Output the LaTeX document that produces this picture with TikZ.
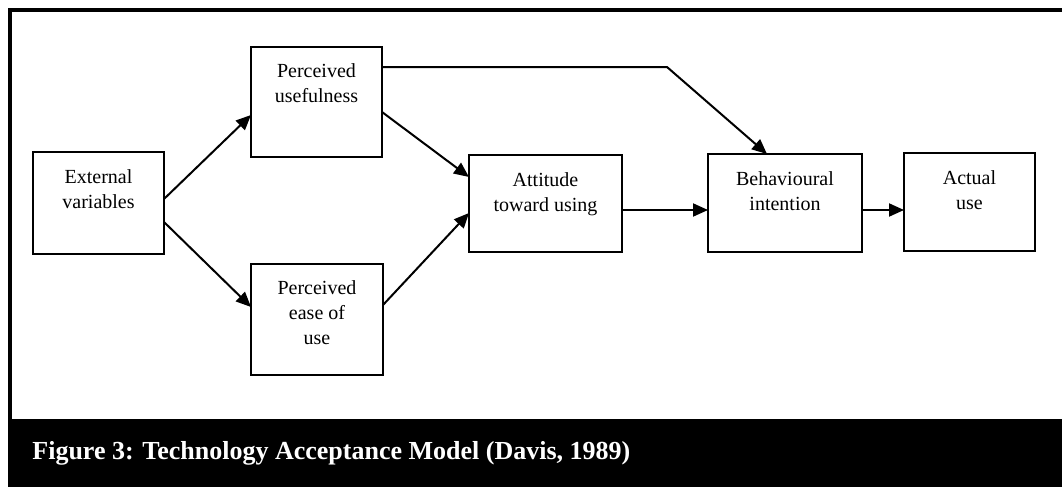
\documentclass[tikz,border=0pt]{standalone}
\usepackage{fontspec}
\setmainfont{Liberation Serif}
\usetikzlibrary{arrows.meta,calc}
\tikzset{
  box/.style={draw, line width=0.7pt, anchor=north west, inner sep=0pt, outer sep=0pt},
  lbl/.style={anchor=north, align=center, inner sep=0pt, font=\fontsize{10}{12.5}\selectfont},
  conn/.style={line width=1pt, -{Triangle[length=7.5pt,width=6.5pt]}},
  frame/.style={line width=2pt},
}
\begin{document}
\begin{tikzpicture}[x=0.5pt,y=-0.5pt]
  \useasboundingbox (0,0) rectangle (1062,487);
  \fill[white] (0,0) rectangle (1062,487);

  % frame and caption bar
  \draw[frame] (10,420) -- (10,10) -- (1062,10);
  \fill[black] (8,419) rectangle (1062,487);
  \node[anchor=base west, text=white, inner sep=0pt,
        font=\bfseries\fontsize{13}{15}\selectfont] (cap) at (32,459)
        {Figure 3: Technology Acceptance Model (Davis, 1989)};

  % boxes
  \node[box, minimum width=65.5pt, minimum height=51pt]   (ext)  at (33,152)  {};
  \node[box, minimum width=65.5pt, minimum height=55pt]   (pu)   at (251,47)  {};
  \node[box, minimum width=66pt,   minimum height=55.5pt] (peou) at (251,264) {};
  \node[box, minimum width=76.5pt, minimum height=48.5pt] (att)  at (469,155) {};
  \node[box, minimum width=77pt,   minimum height=49pt]   (bi)   at (708,154) {};
  \node[box, minimum width=65.5pt, minimum height=49pt]   (act)  at (904,153) {};

  % labels
  \node[lbl] (extL)  at ($(ext.north)+(0,17)$)  {External\\variables};
  \node[lbl] (puL)   at ($(pu.north)+(0,16)$)   {Perceived\\usefulness};
  \node[lbl] (peouL) at ($(peou.north)+(0,16)$) {Perceived\\ease of\\use};
  \node[lbl] (attL)  at ($(att.north)+(0,17)$)  {Attitude\\toward using};
  \node[lbl] (biL)   at ($(bi.north)+(0,17)$)   {Behavioural\\intention};
  \node[lbl] (actL)  at ($(act.north)+(0,17)$)  {Actual\\use};

  % connectors
  \coordinate (bend) at (667,67);
  \draw[conn] ($(ext.east)+(0,-4)$)    -- ($(pu.west)+(0,13)$);
  \draw[conn] ($(ext.east)+(0,19)$)    -- ($(peou.west)+(0,-12.5)$);
  \draw[conn] ($(pu.east)+(0,10)$)     -- ($(att.west)+(0,-26.5)$);
  \draw[conn] ($(peou.east)+(0,-14.5)$) -- ($(att.west)+(0,9.5)$);
  \draw[conn] ($(att.east)+(0,6.5)$)   -- ($(bi.west)+(0,7)$);
  \draw[conn] ($(bi.east)+(0,7)$)      -- ($(act.west)+(0,8)$);
  \draw[conn] ($(pu.east)+(0,-35)$) -- (bend) -- ($(bi.north)+(-18,0)$);
\end{tikzpicture}
\end{document}
